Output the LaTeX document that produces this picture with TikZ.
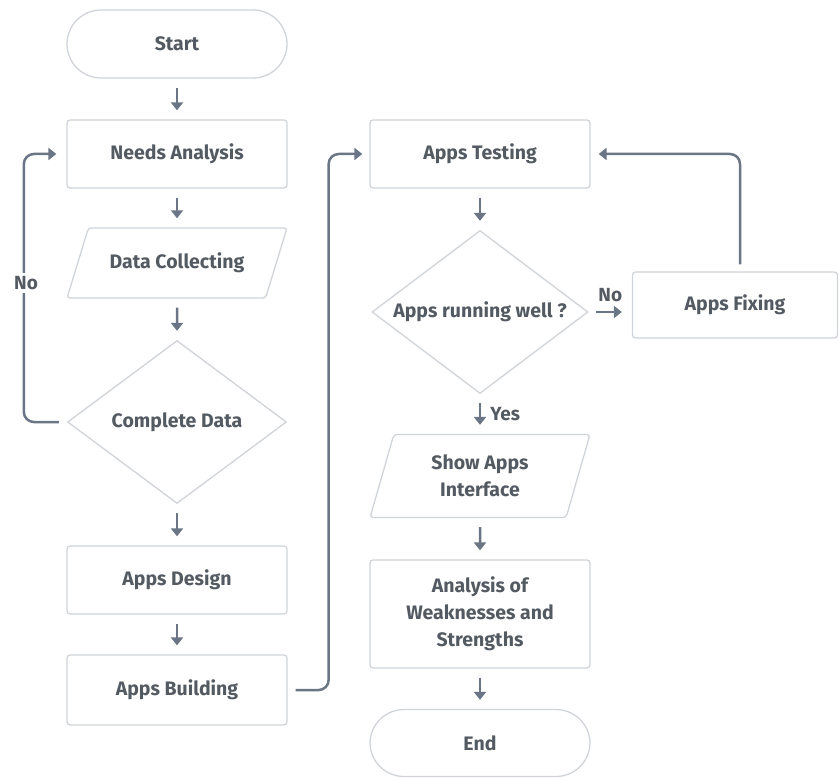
\documentclass[tikz,border=0pt]{standalone}
\usepackage{fontspec}
\setmainfont{Fira Sans}
\usetikzlibrary{shapes.geometric,arrows.meta,positioning}
\definecolor{edge}{RGB}{208,212,217}
\definecolor{ink}{RGB}{84,90,98}
\definecolor{arrowc}{RGB}{106,117,133}

\begin{document}
\begin{tikzpicture}[x=1pt,y=-1pt,
  box/.style={draw=edge,line width=1.3pt,rounded corners=3pt,minimum width=220pt,minimum height=68pt,
    text=ink,font=\fontsize{19.5}{27}\selectfont\bfseries,align=center,inner sep=0pt},
  term/.style={box,rounded corners=34pt},
  io/.style={box,trapezium,trapezium left angle=73,trapezium right angle=107,trapezium stretches body,inner ysep=25pt},
  decide/.style={box,diamond,rounded corners=0pt,aspect=1.34,minimum width=219pt,minimum height=163pt},
  flow/.style={draw=arrowc,line width=2.5pt,-{Triangle[length=8pt,width=12pt]},shorten <=9pt,shorten >=9pt},
  back/.style={flow,rounded corners=10pt},
  lbl/.style={text=ink,font=\fontsize{19}{20}\selectfont\bfseries,inner sep=3pt}]
\useasboundingbox (0,0) rectangle (839,778);

% left column
\node[term] (start) at (177,44) {Start};
\node[box] (needs) at (177,154) {Needs Analysis};
\node[io] (collect) at (177,263) {Data Collecting};
\node[decide] (complete) at (177,422) {Complete Data};
\node[box] (design) at (177,580) {Apps Design};
\node[box,minimum height=70pt] (building) at (177,690) {Apps Building};

% right column
\node[box] (testing) at (480,154) {Apps Testing};
\node[decide,minimum width=216pt] (running) at (480,312) {Apps running well ?};
\node[box,minimum width=205pt,minimum height=66pt] (fixing) at (735,305) {Apps Fixing};
\node[io,inner ysep=18pt,minimum height=83pt] (show) at (480,476) {Show Apps\\Interface};
\node[box,minimum height=108pt] (weak) at (480,614) {Analysis of\\Weaknesses and\\Strengths};
\node[term,minimum height=67pt] (end) at (480,743) {End};

% straight flow
\draw[flow] (start) -- (needs);
\draw[flow] (needs) -- (collect);
\draw[flow] (collect) -- (complete);
\draw[flow] (complete) -- (design);
\draw[flow] (design) -- (building);
\draw[flow] (testing) -- (running);
\draw[flow] (running) -- (show) node[lbl,midway,right=6pt] {Yes};
\draw[flow] (show) -- (weak);
\draw[flow] (weak) -- (end);
\draw[flow,shorten <=7pt,shorten >=10pt] (running.east) -- (running.east -| fixing.west)
  node[lbl,midway,above=6pt] {No};

% loops back
\draw[back,shorten <=8pt,shorten >=10pt] (complete.west) -- ++(-43,0) |- (needs.west);
\node[lbl,fill=white] (nolbl) at (26,283) {No};
\draw[back,shorten <=8pt,shorten >=7pt] (building.east) -- ++(41,0) |- (testing.west);
\draw[back,shorten <=7pt,shorten >=8pt] ([xshift=5pt]fixing.north) |- (testing.east);
\end{tikzpicture}
\end{document}
